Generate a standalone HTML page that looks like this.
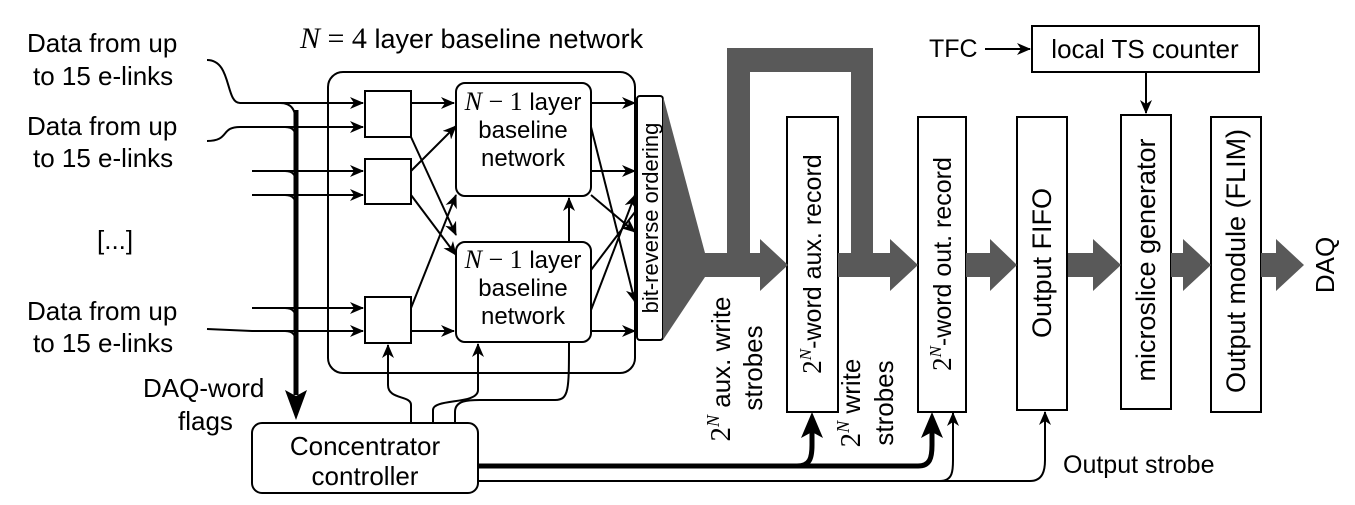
<!DOCTYPE html>
<html><head><meta charset="utf-8"><style>
html,body{margin:0;padding:0;background:#fff;}
svg{display:block;font-family:"Liberation Sans",sans-serif;}
</style></head><body>
<svg width="1355" height="505" viewBox="0 0 1355 505" xmlns="http://www.w3.org/2000/svg">
<defs>
<marker id="a" viewBox="0 0 14 12" refX="13" refY="6" markerWidth="14" markerHeight="12" markerUnits="userSpaceOnUse" orient="auto"><path d="M0,0 L14,6 L0,12 L4,6 z" fill="#000"/></marker>
</defs>
<g font-size="26" fill="#000">
<text x="27" y="52">Data from up</text><text x="33" y="85">to 15 e-links</text>
<text x="27" y="135">Data from up</text><text x="33" y="167">to 15 e-links</text>
<text x="97" y="249">[...]</text>
<text x="27" y="320">Data from up</text><text x="33" y="352">to 15 e-links</text>
<text x="143" y="397">DAQ-word</text><text x="178" y="430">flags</text>
<text x="300" y="48" font-size="27"><tspan font-family="Liberation Serif" font-style="italic" font-size="30">N</tspan><tspan font-family="Liberation Serif" font-size="30"> = 4</tspan> layer baseline network</text>
<text x="929" y="57" font-size="25">TFC</text>
</g>
<g fill="none" stroke="#000" stroke-width="2">
<rect x="328" y="72" width="307" height="301" rx="15"/>
<rect x="365" y="91" width="46" height="46"/>
<rect x="365" y="159" width="46" height="45"/>
<rect x="365" y="297" width="46" height="46"/>
<rect x="456" y="83" width="135" height="113" rx="9"/>
<rect x="456" y="242" width="135" height="100" rx="9"/>
<rect x="637" y="96" width="26" height="244" rx="3"/>
<rect x="252" y="423" width="226" height="70" rx="10"/>
<rect x="787" y="117" width="51" height="295"/>
<rect x="918" y="117" width="48" height="295"/>
<rect x="1017" y="117" width="50" height="293"/>
<rect x="1121" y="115" width="50" height="294"/>
<rect x="1211" y="117" width="50" height="295"/>
<rect x="1032" y="26" width="227" height="46"/>
<path d="M207,60 C232,60 225,103 240,103 L363,103" marker-end="url(#a)"/>
<path d="M207,141 C230,141 220,127 240,127 L363,127" marker-end="url(#a)"/>
<path d="M252,171 L363,171" marker-end="url(#a)"/>
<path d="M252,195 L363,195" marker-end="url(#a)"/>
<path d="M252,308 L363,308" marker-end="url(#a)"/>
<path d="M207,329 L252,331 L363,331" marker-end="url(#a)"/>
<path d="M280,103 C292,103 296,110 296,125"/>
<path d="M285,127 C294,127 296,132 296,140"/>
<path d="M285,171 C294,171 296,176 296,184"/>
<path d="M285,195 C294,195 296,200 296,208"/>
<path d="M285,308 C294,308 296,313 296,321"/>
<path d="M285,331 C294,331 296,336 296,344"/>
<path d="M411,103 L454,103" marker-end="url(#a)"/>
<path d="M411,137 L456,235" marker-end="url(#a)"/>
<path d="M411,171 L456,126" marker-end="url(#a)"/>
<path d="M411,195 L456,255" marker-end="url(#a)"/>
<path d="M411,308 L456,195" marker-end="url(#a)"/>
<path d="M411,331 L454,331" marker-end="url(#a)"/>
<path d="M591,103 L635,103" marker-end="url(#a)"/>
<path d="M591,171 L635,171" marker-end="url(#a)"/>
<path d="M591,127 L635,302" marker-end="url(#a)"/>
<path d="M591,195 L635,232" marker-end="url(#a)"/>
<path d="M591,310 L635,195" marker-end="url(#a)"/>
<path d="M591,270 L635,212"/>
<path d="M591,331 L635,331" marker-end="url(#a)"/>
<path d="M569,242 L569,198" marker-end="url(#a)"/>
<path d="M411,423 L411,405 C411,395 388,400 388,385 L388,345" marker-end="url(#a)"/>
<path d="M433,423 L433,410 C433,398 478,405 478,390 L478,344" marker-end="url(#a)"/>
<path d="M455,423 L455,412 C455,400 469,400 480,400 L555,400 C569,400 569,390 569,342"/>
<path d="M478,481 L1030,481 C1043,481 1045,470 1045,460 L1045,412" marker-end="url(#a)"/>
<path d="M940,481 C953,481 953,470 953,460 L953,413" marker-end="url(#a)"/>
<path d="M1146,72 L1146,113" marker-end="url(#a)"/>
<path d="M985,49 L1030,49" marker-end="url(#a)"/>
</g>
<g fill="none" stroke="#000" stroke-width="5">
<path d="M296,110 L296,395"/>
<path d="M478,466 L797,466 C810,466 812,458 812,445 L812,430"/>
<path d="M780,466 L918,466 C930,466 932,458 932,445 L932,430"/>
</g>
<g fill="#000">
<path d="M285,390 L296,420 L307,390 L296,396 Z"/>
<path d="M801,438 L812,412 L823,438 L812,432 Z"/>
<path d="M921,438 L932,412 L943,438 L932,432 Z"/>
</g>
<g fill="#595959">
<polygon points="663,96 705,253 705,277 663,340"/>
<path d="M705,253 L727,253 L727,48 L873,48 L873,253 L890,253 L890,239 L918,265 L890,291 L890,277 L838,277 L838,253 L851,253 L851,72 L750,72 L750,253 L760,253 L760,239 L788,265 L760,291 L760,277 L705,277 Z"/>
<path d="M966,253 L990,253 L990,239 L1017,265 L990,291 L990,277 L966,277 Z"/>
<path d="M1068,253 L1093,253 L1093,239 L1121,265 L1093,291 L1093,277 L1068,277 Z"/>
<path d="M1171,253 L1183,253 L1183,239 L1211,265 L1183,291 L1183,277 L1171,277 Z"/>
<path d="M1261,253 L1276,253 L1276,239 L1304,265 L1276,291 L1276,277 L1261,277 Z"/>
</g>
<g font-size="24" text-anchor="middle" fill="#000">
<text x="523" y="110"><tspan font-family="Liberation Serif" font-style="italic" font-size="26">N</tspan><tspan font-family="Liberation Serif" font-size="26"> − 1</tspan> layer</text>
<text x="523" y="138">baseline</text><text x="523" y="166">network</text>
<text x="523" y="268"><tspan font-family="Liberation Serif" font-style="italic" font-size="26">N</tspan><tspan font-family="Liberation Serif" font-size="26"> − 1</tspan> layer</text>
<text x="523" y="296">baseline</text><text x="523" y="324">network</text>
<text x="365" y="455" font-size="26">Concentrator</text><text x="365" y="485" font-size="26">controller</text>
<text x="1145" y="58" font-size="26">local TS counter</text>
<text x="1063" y="473" font-size="25" text-anchor="start">Output strobe</text>
<text transform="translate(658,218) rotate(-90)" font-size="22">bit-reverse ordering</text>
<text transform="translate(821,264) rotate(-90)" font-size="25"><tspan font-family="Liberation Serif" font-size="27">2</tspan><tspan font-family="Liberation Serif" font-style="italic" font-size="17" dy="-10">N</tspan><tspan dy="10">-word aux. record</tspan></text>
<text transform="translate(951,264) rotate(-90)" font-size="25"><tspan font-family="Liberation Serif" font-size="27">2</tspan><tspan font-family="Liberation Serif" font-style="italic" font-size="17" dy="-10">N</tspan><tspan dy="10">-word out. record</tspan></text>
<text transform="translate(1051,263) rotate(-90)" font-size="27">Output FIFO</text>
<text transform="translate(1155,260) rotate(-90)" font-size="27">microslice generator</text>
<text transform="translate(1245,261) rotate(-90)" font-size="27">Output module (FLIM)</text>
<text transform="translate(1334,265) rotate(-90)" font-size="26">DAQ</text>
<text transform="translate(730,369) rotate(-90)" font-size="26"><tspan font-family="Liberation Serif" font-size="29">2</tspan><tspan font-family="Liberation Serif" font-style="italic" font-size="18" dy="-11">N</tspan><tspan dy="11"> aux. write</tspan></text>
<text transform="translate(762,368) rotate(-90)" font-size="26">strobes</text>
<text transform="translate(860,403) rotate(-90)" font-size="26"><tspan font-family="Liberation Serif" font-size="29">2</tspan><tspan font-family="Liberation Serif" font-style="italic" font-size="18" dy="-11">N</tspan><tspan dy="11"> write</tspan></text>
<text transform="translate(893,403) rotate(-90)" font-size="26">strobes</text>
</g>
</svg>
</body></html>
